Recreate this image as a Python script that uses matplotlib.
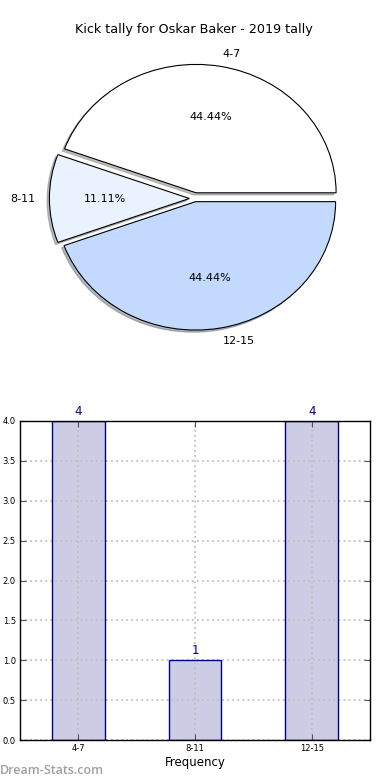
import matplotlib
matplotlib.use("Agg")
import matplotlib.pyplot as plt
import numpy as np

categories = ["4-7", "8-11", "12-15"]
counts = [4, 1, 4]
pie_colors = ["#ffffff", "#eaf1ff", "#c4d9fe"]
explode = [0.045, 0.04, 0.025]
title = "Kick tally for Oskar Baker - 2019 tally"
yticks = [0.0, 0.5, 1.0, 1.5, 2.0, 2.5, 3.0, 3.5, 4.0]

W, H = 390, 780
fig = plt.figure(figsize=(W / 100, H / 100), dpi=100)

# ---- Pie ----
ax1 = fig.add_axes([20 / W, (H - 38 - 321) / H, 350 / W, 321 / H])
wedges, texts, autotexts = ax1.pie(
    counts, labels=categories, colors=pie_colors, explode=explode,
    shadow=dict(ox=-0.012, oy=-0.012, shade=0.5), autopct="%1.2f%%",
    startangle=0,
    wedgeprops=dict(edgecolor="black", linewidth=0.8),
    textprops=dict(fontsize=8, color="black"))
ax1.set_aspect("auto")
ax1.set_xlim(-1.25, 1.25)
ax1.set_ylim(-1.25, 1.25)
ax1.axis("off")
fig.text(194 / W, 1 - 30 / H, title, ha="center", va="center", fontsize=9.2)

# ---- Bar ----
ax2 = fig.add_axes([20 / W, 40 / H, 350 / W, 319 / H])
x = np.arange(len(categories))
ax2.bar(x, counts, width=0.45, color="#ccccE4", edgecolor="none", zorder=2)
ax2.bar(x, counts, width=0.45, fill=False, edgecolor="#000080",
        linewidth=1.0, zorder=4)
for xi, v in zip(x, counts):
    ax2.text(xi, v + 0.04, str(v), ha="center", va="bottom", color="#000080",
             fontsize=8.5)
ax2.set_xlim(-0.5, 2.5)
ax2.set_ylim(0, 4)
ax2.set_xticks(x)
ax2.set_xticklabels(categories)
ax2.set_yticks(yticks)
ax2.set_yticklabels([f"{t:.1f}" for t in yticks])
ax2.tick_params(direction="in", top=True, right=True, labelsize=6, length=4,
                width=0.8, pad=3, color="#555555")
ax2.grid(True, linestyle=(0, (1.0, 1.8)), color="#c0c0c0", linewidth=1.3,
         zorder=3)
ax2.set_axisbelow(False)
for s in ax2.spines.values():
    s.set_linewidth(1.0)
    s.set_zorder(5)
ax2.set_xlabel("Frequency", fontsize=8.5, labelpad=2)

fig.text(0 / W, 1 - 770 / H, "Dream-Stats.com", ha="left", va="center",
         fontsize=9, color="#a0a0a0", fontweight="semibold",
         family=["Open Sans", "DejaVu Sans"])

fig.savefig("out.png", dpi=100)
